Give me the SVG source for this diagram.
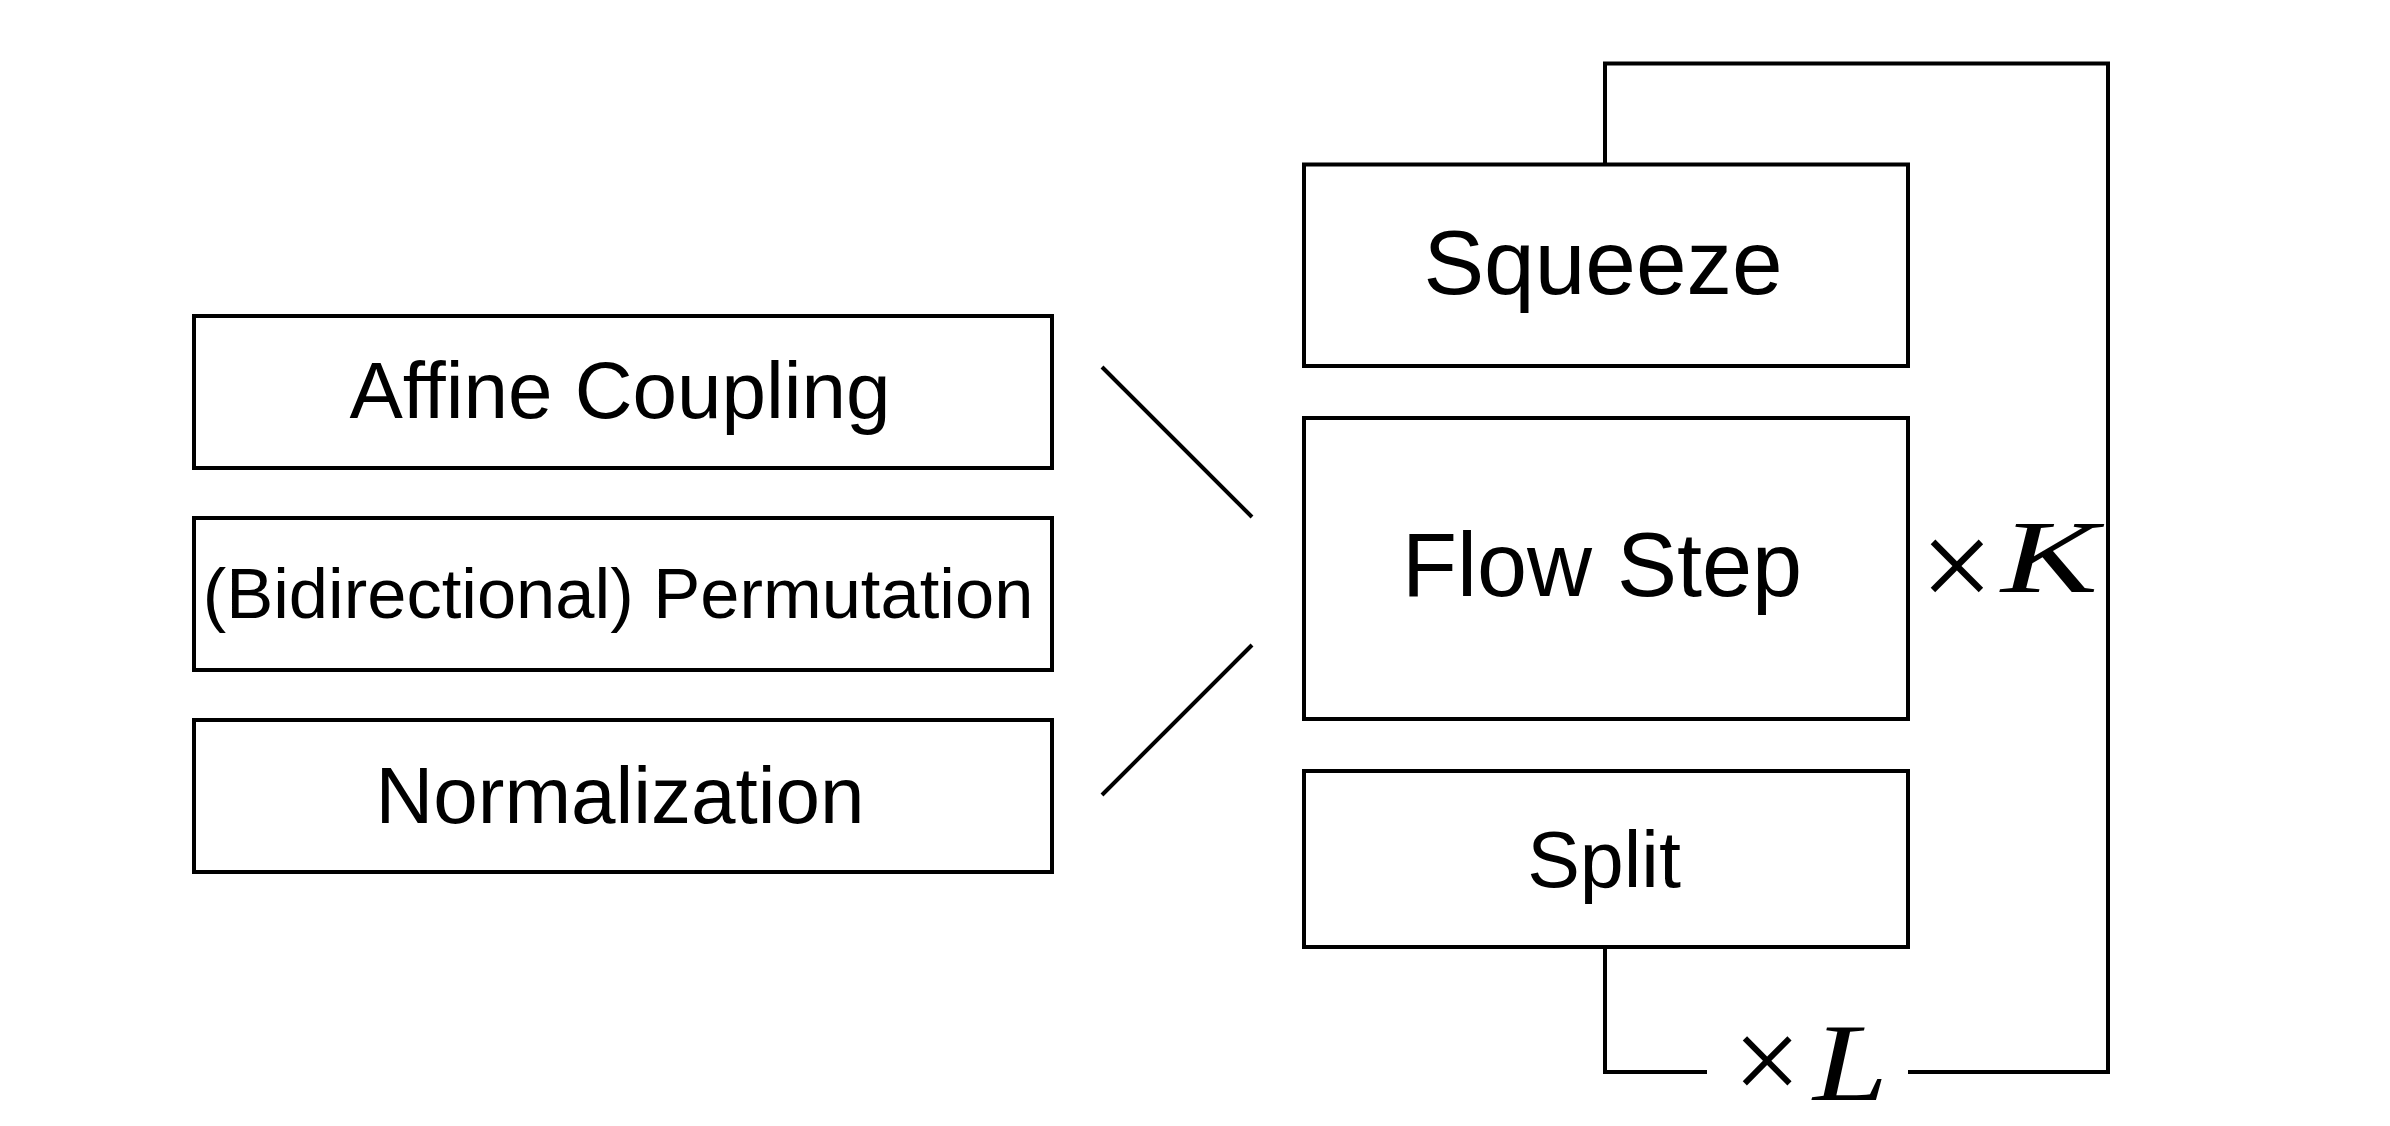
<svg xmlns="http://www.w3.org/2000/svg" width="2390" height="1126" viewBox="0 0 2390 1126">
  <style>
    .box { fill: #ffffff; stroke: #000000; stroke-width: 4; }
    .lbl { font-family: "Liberation Sans", Arial, sans-serif; fill: #000000; text-anchor: middle; }
    .conn { fill: none; stroke: #000000; stroke-width: 4; }
    .math { font-family: "Liberation Serif", "Times New Roman", serif; fill: #000000; }
    .mi { font-style: italic; }
  </style>
  <rect x="0" y="0" width="2390" height="1126" fill="#ffffff"/>

  <g id="connectors">
    <line class="conn" x1="1102" y1="367" x2="1252" y2="517"/>
    <line class="conn" x1="1102" y1="795" x2="1252" y2="645"/>
    <path class="conn" d="M1605 164.5 V63.5 H2108 V1072 H1908"/>
    <path class="conn" d="M1605 947 V1072 H1707"/>
  </g>

  <g id="node-affine-coupling">
    <rect class="box" x="194" y="316" width="858" height="152"/>
    <text class="lbl" x="620" y="418" font-size="80">Affine Coupling</text>
  </g>
  <g id="node-permutation">
    <rect class="box" x="194" y="518" width="858" height="152"/>
    <text class="lbl" x="618" y="618" font-size="70.5">(Bidirectional) Permutation</text>
  </g>
  <g id="node-normalization">
    <rect class="box" x="194" y="720" width="858" height="152"/>
    <text class="lbl" x="620" y="823" font-size="80">Normalization</text>
  </g>

  <g id="node-squeeze">
    <rect class="box" x="1304" y="164.5" width="604" height="201.5"/>
    <text class="lbl" x="1603" y="294" font-size="91">Squeeze</text>
  </g>
  <g id="node-flow-step">
    <rect class="box" x="1304" y="418" width="604" height="301"/>
    <text class="lbl" x="1602" y="596" font-size="90">Flow Step</text>
  </g>
  <g id="node-split">
    <rect class="box" x="1304" y="771" width="604" height="176"/>
    <text class="lbl" x="1604" y="887" font-size="79">Split</text>
  </g>

  <g id="label-times-k">
    <text class="math" x="1957" y="609" font-size="129" text-anchor="middle">×</text>
    <text class="math mi" x="2001" y="592" font-size="104" textLength="97" lengthAdjust="spacingAndGlyphs">K</text>
  </g>
  <g id="label-times-l">
    <text class="math" x="1767" y="1101" font-size="120" text-anchor="middle">×</text>
    <text class="math mi" x="1813" y="1100" font-size="111" textLength="75" lengthAdjust="spacingAndGlyphs">L</text>
  </g>
</svg>
